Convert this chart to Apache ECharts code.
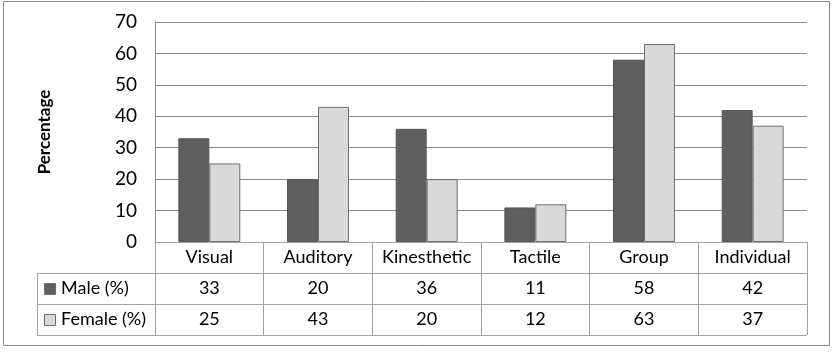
<!DOCTYPE html>
<html>
<head>
<meta charset="utf-8">
<script src="https://cdn.jsdelivr.net/npm/echarts@6/dist/echarts.min.js"></script>
<style>
  html, body { margin: 0; padding: 0; background: #fff; }
  #main { width: 837px; height: 355px; }
</style>
</head>
<body>
<div id="main"></div>
<script>
var categories = ['Visual', 'Auditory', 'Kinesthetic', 'Tactile', 'Group', 'Individual'];
var maleValues = [33, 20, 36, 11, 58, 42];
var femaleValues = [25, 43, 20, 12, 63, 37];
var seriesNames = ['Male (%)', 'Female (%)'];
var yTicks = { min: 0, max: 70, interval: 10 };

var FONT = 'Lato, "Liberation Sans", sans-serif';
var maleColor = '#5f5f5f';
var femaleColor = '#d9d9d9';
var lineColor = '#a3a3a3';
var rowH = 31;
var tableLeft = 37;

var myChart = echarts.init(document.getElementById('main'));

myChart.setOption({
  animation: false,
  grid: { left: 155, right: 30, top: 22, bottom: 113 },
  xAxis: {
    type: 'category',
    data: categories,
    axisLine: { show: true, lineStyle: { color: lineColor, width: 1 } },
    axisTick: { show: true, interval: 0, length: rowH * 3, lineStyle: { color: lineColor, width: 1 } },
    axisLabel: { interval: 0, color: '#000', fontSize: 18, fontFamily: FONT, margin: 6 }
  },
  yAxis: {
    type: 'value',
    min: yTicks.min,
    max: yTicks.max,
    interval: yTicks.interval,
    name: 'Percentage',
    nameLocation: 'middle',
    nameGap: 102,
    nameRotate: 90,
    nameTextStyle: { color: '#000', fontSize: 17, fontWeight: 'bold', fontFamily: FONT },
    axisLine: { show: true, lineStyle: { color: '#8c8c8c' } },
    axisTick: { show: false },
    splitLine: { lineStyle: { color: '#8c8c8c', width: 1 } },
    axisLabel: { color: '#000', fontSize: 19, fontFamily: FONT, margin: 18 }
  },
  series: [
    {
      name: seriesNames[0],
      type: 'bar',
      data: maleValues,
      barGap: '0%',
      barCategoryGap: '43%',
      itemStyle: { color: maleColor, borderColor: '#555', borderWidth: 1 }
    },
    {
      name: seriesNames[1],
      type: 'bar',
      data: femaleValues,
      itemStyle: { color: femaleColor, borderColor: '#6e6e6e', borderWidth: 1 }
    }
  ]
});

// data table under the plot, positioned from the axes
function buildTable() {
  var y0 = myChart.convertToPixel({ yAxisIndex: 0 }, 0);
  var c0 = myChart.convertToPixel({ xAxisIndex: 0 }, 0);
  var c1 = myChart.convertToPixel({ xAxisIndex: 0 }, 1);
  var band = c1 - c0;
  var right = c0 - band / 2 + band * categories.length;
  var els = [];

  // outer frame
  els.push({ type: 'rect', shape: { x: 3.5, y: 1.5, width: 826, height: 344 },
    style: { fill: null, stroke: '#8c8c8c', lineWidth: 1 }, silent: true });

  for (var k = 1; k <= 3; k++) {
    var yy = Math.round(y0 + rowH * k) + 0.5;
    els.push({ type: 'line', shape: { x1: tableLeft, y1: yy, x2: right, y2: yy },
      style: { stroke: lineColor, lineWidth: 1 } });
  }
  els.push({ type: 'line', shape: { x1: tableLeft + 0.5, y1: y0 + rowH, x2: tableLeft + 0.5, y2: y0 + rowH * 3 },
    style: { stroke: lineColor, lineWidth: 1 } });

  var rows = [maleValues, femaleValues];
  var colors = [maleColor, femaleColor];
  rows.forEach(function (vals, r) {
    var cy = y0 + rowH * (r + 1) + rowH / 2;
    els.push({ type: 'rect', shape: { x: tableLeft + 7.5, y: Math.round(cy - 5.5) + 0.5, width: 11, height: 11 },
      style: { fill: colors[r], stroke: '#6e6e6e', lineWidth: 1 } });
    els.push({ type: 'text', x: tableLeft + 24, y: cy,
      style: { text: seriesNames[r], fill: '#000', font: '18px ' + FONT, textVerticalAlign: 'middle' } });
    vals.forEach(function (v, i) {
      var cx = myChart.convertToPixel({ xAxisIndex: 0 }, i);
      els.push({ type: 'text', x: cx, y: cy,
        style: { text: String(v), fill: '#000', font: '18px ' + FONT, textAlign: 'center', textVerticalAlign: 'middle' } });
    });
  });

  myChart.setOption({ graphic: els });
}
buildTable();
</script>
</body>
</html>
